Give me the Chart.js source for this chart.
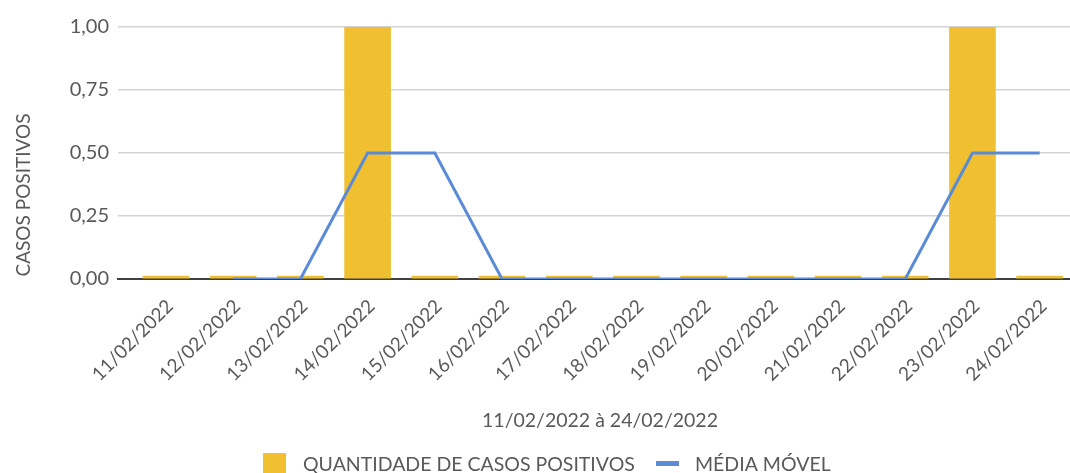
<!DOCTYPE html>
<html>
<head>
<meta charset="utf-8">
<script src="https://cdn.jsdelivr.net/npm/chart.js@4/dist/chart.umd.min.js"></script>
<style>
html,body{margin:0;padding:0;background:#fff;overflow:hidden;}
#wrap{width:1090px;height:473px;}
</style>
</head>
<body>
<div id="wrap"><canvas id="c" width="1090" height="473"></canvas></div>
<script>
const categories = ["11/02/2022","12/02/2022","13/02/2022","14/02/2022","15/02/2022","16/02/2022","17/02/2022","18/02/2022","19/02/2022","20/02/2022","21/02/2022","22/02/2022","23/02/2022","24/02/2022"];
const positiveCases = [0,0,0,1,0,0,0,0,0,0,0,0,1,0];
const movingAverage = [null,0,0,0.5,0.5,0,0,0,0,0,0,0,0.5,0.5];
const yTicks = [0,0.25,0.5,0.75,1];
const seriesNames = ["QUANTIDADE DE CASOS POSITIVOS","MÉDIA MÓVEL"];
const xTitle = "11/02/2022 à 24/02/2022";
const yTitle = "CASOS POSITIVOS";

const FONT = "Lato";
const TXT = "#595959";
const YELLOW = "#F0C030";
const BLUE = "#5B8BD6";

const textPlugin = {
  id: "texts",
  afterDraw(chart) {
    const ctx = chart.ctx;
    ctx.save();
    ctx.fillStyle = TXT;
    ctx.textBaseline = "middle";
    // y title
    ctx.font = "19px " + FONT;
    ctx.save();
    ctx.translate(24, 195);
    ctx.rotate(-Math.PI / 2);
    ctx.textAlign = "center";
    ctx.fillText(yTitle, 0, 0);
    ctx.restore();
    // x title
    ctx.font = "19.5px " + FONT;
    ctx.textAlign = "center";
    ctx.fillText(xTitle, 600, 421);
    // legend
    ctx.textAlign = "left";
    ctx.fillStyle = YELLOW;
    ctx.fillRect(263, 453, 23, 21);
    ctx.fillStyle = TXT;
    ctx.fillText(seriesNames[0], 303, 465);
    ctx.fillStyle = BLUE;
    ctx.fillRect(656, 461, 23, 5);
    ctx.fillStyle = TXT;
    ctx.fillText(seriesNames[1], 695, 465);
    ctx.restore();
  }
};

new Chart(document.getElementById("c"), {
  data: {
    datasets: [
      {
        type: "line",
        label: seriesNames[1],
        data: movingAverage.map((v, i) => ({x: i, y: v})),
        borderColor: BLUE,
        borderWidth: 3,
        pointRadius: 0,
        tension: 0,
        order: 0
      },
      {
        type: "bar",
        label: seriesNames[0],
        data: positiveCases.map((v, i) => ({x: i, y: v})),
        backgroundColor: YELLOW,
        barThickness: 46,
        minBarLength: 3,
        order: 1
      }
    ]
  },
  options: {
    responsive: false,
    animation: false,
    devicePixelRatio: 1,
    layout: {padding: {top: 27, right: 10, bottom: 0, left: 0}},
    plugins: {legend: {display: false}, tooltip: {enabled: false}},
    scales: {
      x: {
        type: "linear",
        offset: false,
        min: -0.714,
        max: 13.6,
        afterBuildTicks(scale) {
          scale.ticks = categories.map((c, i) => ({value: i}));
        },
        afterFit(scale) {
          scale.height = 194;
          scale.paddingLeft = 0;
          scale.paddingRight = 0;
        },
        ticks: {
          autoSkip: false,
          minRotation: 45,
          maxRotation: 45,
          color: TXT,
          font: {family: FONT, size: 19},
          padding: 16,
          labelOffset: 4,
          callback: (v) => categories[v]
        },
        grid: {display: false, drawTicks: false},
        border: {display: true, color: "#404040", width: 2}
      },
      y: {
        type: "linear",
        min: 0,
        max: 1,
        afterBuildTicks(scale) {
          scale.ticks = yTicks.map(v => ({value: v}));
        },
        afterFit(scale) {
          scale.width = 118;
          scale.paddingTop = 0;
          scale.paddingBottom = 0;
        },
        ticks: {
          color: TXT,
          font: {family: FONT, size: 20},
          padding: 9,
          callback: (v) => v.toFixed(2).replace(".", ",")
        },
        grid: {
          color: (c) => c.tick && c.tick.value === 0 ? "rgba(0,0,0,0)" : "#d3d3d3",
          lineWidth: 1.5,
          drawTicks: false
        },
        border: {display: false}
      }
    }
  },
  plugins: [textPlugin]
});
</script>
</body>
</html>
